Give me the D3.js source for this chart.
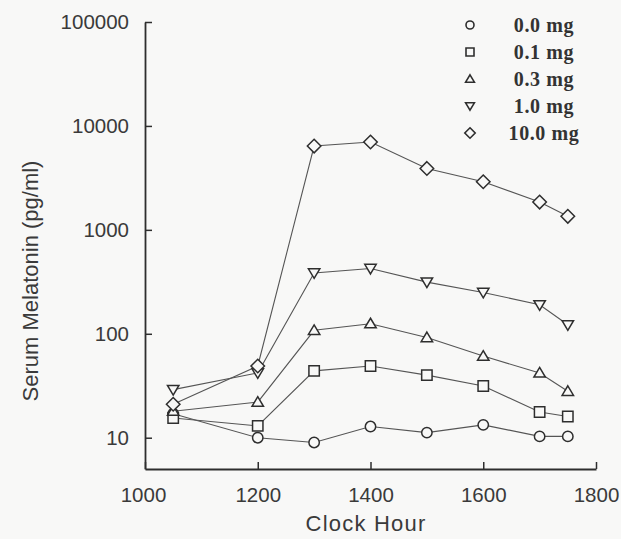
<!DOCTYPE html>
<html>
<head>
<meta charset="utf-8">
<script src="https://cdn.jsdelivr.net/npm/d3@7"></script>
<style>
  html, body { margin: 0; padding: 0; background: #f8f8f7; }
  svg { display: block; }
</style>
</head>
<body>
<div id="chart"></div>
<script>
// clock hours of the blood draws
const hours = [1050, 1200, 1300, 1400, 1500, 1600, 1700, 1750]

// serum melatonin, pg/ml, one array per dose
const dose00 = [17, 10, 9, 12.8, 11.2, 13.3, 10.3, 10.3]
const dose01 = [15.5, 13, 44, 49, 40, 31.5, 17.7, 16]
const dose03 = [18, 22, 108, 125, 92, 61, 42, 28]
const dose10 = [29, 42, 385, 425, 314, 250, 190, 122]
const dose100 = [21, 49, 6400, 7000, 3900, 2900, 1850, 1350]

const doseLabels = ['0.0 mg', '0.1 mg', '0.3 mg', '1.0 mg', '10.0 mg']
const symbols = ['circle', 'square', 'up', 'down', 'diamond']
const xTicks = [1000, 1200, 1400, 1600, 1800]
const yTicks = [10, 100, 1000, 10000, 100000]

const series = [dose00, dose01, dose03, dose10, dose100].map((values, i) => ({
  label: doseLabels[i],
  symbol: symbols[i],
  points: values.map((v, j) => ({ hour: hours[j], value: v }))
}))

const width = 621
const height = 539
const ink = '#2e2e2e'

const x = d3.scaleLinear().domain([1000, 1800]).range([145, 596])
const y = d3.scaleLog().domain([5, 100000]).range([469, 22])

const svg = d3
  .select('#chart')
  .append('svg')
  .attr('width', width)
  .attr('height', height)
  .attr('font-family', '"Liberation Sans", Arial, sans-serif')

// marker path around 0,0
function marker(type, s) {
  if (type === 'circle') return d3.symbol(d3.symbolCircle, Math.PI * s * s)()
  if (type === 'square') return `M${-s},${-s}H${s}V${s}H${-s}Z`
  if (type === 'up') return `M0,${-s * 1.05}L${s * 1.1},${s * 0.8}H${-s * 1.1}Z`
  if (type === 'down') return `M0,${s * 1.05}L${s * 1.1},${-s * 0.8}H${-s * 1.1}Z`
  return `M0,${-s * 1.3}L${s * 1.3},0L0,${s * 1.3}L${-s * 1.3},0Z`
}

// axes
const yAxis = d3
  .axisLeft(y)
  .tickValues(yTicks)
  .tickFormat(d3.format('d'))
  .tickSizeInner(-7)
  .tickSizeOuter(0)
  .tickPadding(16)

const xAxis = d3
  .axisBottom(x)
  .tickValues(xTicks)
  .tickFormat(d => d)
  .tickSizeInner(-7)
  .tickSizeOuter(0)
  .tickPadding(18)

const gy = svg.append('g').attr('transform', `translate(${x(1000)},0)`).call(yAxis)
const gx = svg.append('g').attr('transform', `translate(0,${y(5)})`).call(xAxis)

;[gx, gy].forEach(g => {
  g.select('.domain').attr('stroke', ink).attr('stroke-width', 1.8)
  g.selectAll('.tick line').attr('stroke', ink).attr('stroke-width', 1.5)
  g.selectAll('.tick text')
    .attr('fill', '#3a3a3a')
    .attr('font-size', 20.5)
    .attr('font-family', '"Liberation Sans", Arial, sans-serif')
})
gx.select('.tick text').attr('dx', -2)

// axis titles
svg
  .append('text')
  .attr('x', 366)
  .attr('y', 531)
  .attr('text-anchor', 'middle')
  .attr('font-size', 22)
  .attr('letter-spacing', 1.2)
  .attr('fill', '#3a3a3a')
  .text('Clock Hour')

svg
  .append('text')
  .attr('transform', 'translate(38,281) rotate(-90)')
  .attr('text-anchor', 'middle')
  .attr('font-size', 22)
  .attr('fill', '#3a3a3a')
  .text('Serum Melatonin (pg/ml)')

// lines
const line = d3
  .line()
  .x(d => x(d.hour))
  .y(d => y(d.value))

svg
  .append('g')
  .attr('fill', 'none')
  .attr('stroke', '#555')
  .attr('stroke-width', 1.1)
  .selectAll('path')
  .data(series)
  .join('path')
  .attr('d', d => line(d.points))

// markers
svg
  .append('g')
  .selectAll('g')
  .data(series)
  .join('g')
  .selectAll('path')
  .data(d => d.points.map(p => ({ ...p, symbol: d.symbol })))
  .join('path')
  .attr('transform', d => `translate(${x(d.hour)},${y(d.value)})`)
  .attr('d', d => marker(d.symbol, 5.2))
  .attr('fill', '#f8f8f7')
  .attr('stroke', ink)
  .attr('stroke-width', 1.5)

// legend
const legend = svg
  .append('g')
  .selectAll('g')
  .data(series)
  .join('g')
  .attr('transform', (d, i) => `translate(470,${25 + i * 27})`)

legend
  .append('path')
  .attr('d', d => marker(d.symbol, 4))
  .attr('fill', 'none')
  .attr('stroke', ink)
  .attr('stroke-width', 1.6)

legend
  .append('text')
  .attr('x', 74)
  .attr('dy', '0.35em')
  .attr('text-anchor', 'middle')
  .attr('font-family', '"Liberation Serif", "Times New Roman", serif')
  .attr('font-weight', 'bold')
  .attr('font-size', 20)
  .attr('letter-spacing', 0.6)
  .attr('fill', '#333')
  .text(d => d.label)
</script>
</body>
</html>
